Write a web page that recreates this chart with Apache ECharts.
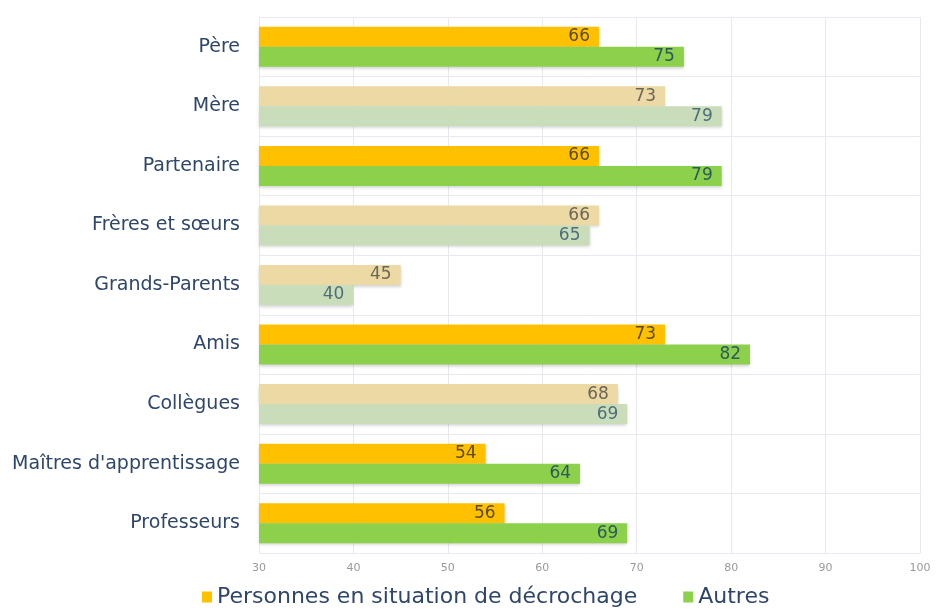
<!DOCTYPE html>
<html>
<head>
<meta charset="utf-8">
<script src="https://cdn.jsdelivr.net/npm/echarts@6/dist/echarts.min.js"></script>
<style>
  html, body { margin: 0; padding: 0; background: #ffffff; }
  #chart { width: 937px; height: 614px; }
</style>
</head>
<body>
<div id="chart"></div>
<script>
// Categories (top to bottom)
const categories = [
  'Père', 'Mère', 'Partenaire', 'Frères et sœurs', 'Grands-Parents',
  'Amis', 'Collègues', "Maîtres d'apprentissage", 'Professeurs'
];
const seriesNames = ['Personnes en situation de décrochage', 'Autres'];
const decrochage = [66, 73, 66, 66, 45, 73, 68, 54, 56];
const autres = [75, 79, 79, 65, 40, 82, 69, 64, 69];
const axisTicks = [30, 40, 50, 60, 70, 80, 90, 100];

// Rows drawn in muted tones
const mutedRows = [false, true, false, true, true, false, true, false, false];

const palette = {
  orange: '#FFC000', orangeMuted: '#EDD9A4',
  green: '#8CD04C', greenMuted: '#C9DDBB',
  orangeLabel: '#5A4A1E', orangeLabelMuted: '#6B6658',
  greenLabel: '#2C5A5A', greenLabelMuted: '#4E6E78'
};

function buildData(values, base, muted, lbl, lblMuted) {
  return values.map((v, i) => ({
    value: v,
    itemStyle: { color: mutedRows[i] ? muted : base },
    label: { color: mutedRows[i] ? lblMuted : lbl }
  }));
}

const chart = echarts.init(document.getElementById('chart'));
const font = "'DejaVu Sans', 'Liberation Sans', sans-serif";

const barCommon = {
  type: 'bar',
  barWidth: 20,
  barGap: '0%',
  label: {
    show: true,
    position: 'insideRight',
    distance: 9,
    fontSize: 17,
    fontFamily: font
  },
  itemStyle: {
    shadowColor: 'rgba(0,0,0,0.18)',
    shadowBlur: 3,
    shadowOffsetY: 2
  }
};

chart.setOption({
  backgroundColor: '#ffffff',
  animation: false,
  grid: { left: 259, right: 17, top: 17, bottom: 61, containLabel: false },
  legend: {
    data: seriesNames,
    left: 197,
    bottom: 1,
    itemWidth: 10,
    itemHeight: 11,
    itemGap: 46,
    icon: 'rect',
    textStyle: { fontSize: 22, color: '#2F466B', fontFamily: font }
  },
  xAxis: {
    type: 'value',
    min: axisTicks[0],
    max: axisTicks[axisTicks.length - 1],
    interval: 10,
    axisLine: { show: false },
    axisTick: { show: false },
    axisLabel: { fontSize: 11, color: '#999999', fontFamily: font, margin: 10 },
    splitLine: { show: true, lineStyle: { color: '#E6E9F0', width: 1 } }
  },
  yAxis: {
    type: 'category',
    data: categories,
    inverse: true,
    axisLine: { show: true, lineStyle: { color: '#E6E9F0' } },
    axisTick: { show: false },
    axisLabel: { fontSize: 19, color: '#2F466B', fontFamily: font, margin: 19 },
    splitLine: { show: true, lineStyle: { color: '#E6E9F0', width: 1 } }
  },
  series: [
    Object.assign({}, barCommon, {
      name: seriesNames[0],
      color: palette.orange,
      data: buildData(decrochage, palette.orange, palette.orangeMuted,
        palette.orangeLabel, palette.orangeLabelMuted)
    }),
    Object.assign({}, barCommon, {
      name: seriesNames[1],
      color: palette.green,
      data: buildData(autres, palette.green, palette.greenMuted,
        palette.greenLabel, palette.greenLabelMuted)
    })
  ]
});
</script>
</body>
</html>
